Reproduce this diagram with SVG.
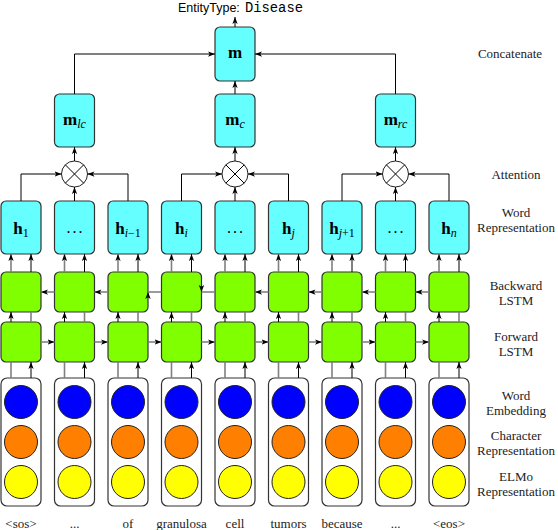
<svg xmlns="http://www.w3.org/2000/svg" width="558" height="530" viewBox="0 0 558 530">
<defs>
<marker id="a" viewBox="0 0 8 6" refX="8" refY="3" markerWidth="7" markerHeight="5.5" markerUnits="userSpaceOnUse" orient="auto">
<path d="M0,0 L8,3 L0,6 L2,3 z" fill="#000"/>
</marker>
<style>
.cy{fill:#66ffff;stroke:#333;stroke-width:1.2}
.gr{fill:#80ff00;stroke:#333;stroke-width:1.2}
.emb{fill:#fff;stroke:#333;stroke-width:1.2}
.b{fill:#0000ff;stroke:#222;stroke-width:1}
.o{fill:#ff8000;stroke:#222;stroke-width:1}
.y{fill:#ffff00;stroke:#222;stroke-width:1}
.att{fill:#fff;stroke:#222;stroke-width:1}
.k{stroke:#000;stroke-width:1;fill:none}
.ka{stroke:#000;stroke-width:1;fill:none;marker-end:url(#a)}
.g{stroke:#808080;stroke-width:1.6;fill:none}
.ga{stroke:#808080;stroke-width:1.6;fill:none;marker-end:url(#a)}
.lbl{font-family:"Liberation Serif",serif;font-size:13px;text-anchor:middle;fill:#222}
.sym{font-family:"Liberation Serif",serif;font-weight:bold;font-size:17px;text-anchor:middle;fill:#000}
.sub{font-weight:normal;font-style:italic;font-size:12px}
.subn{font-weight:normal;font-size:12px}
.dots{font-family:"Liberation Serif",serif;font-size:16px;text-anchor:middle;fill:#000;letter-spacing:2px}
</style>
</defs>
<rect width="558" height="530" fill="#fff"/>

<!-- embeddings -->
<g id="emb1"><rect class="emb" x="1" y="378" width="40" height="128" rx="6"/><circle class="b" cx="21" cy="402" r="16.5"/><circle class="o" cx="21" cy="442" r="16.5"/><circle class="y" cx="21" cy="482" r="16.5"/></g>
<g id="emb2"><rect class="emb" x="54.5" y="378" width="40" height="128" rx="6"/><circle class="b" cx="74.5" cy="402" r="16.5"/><circle class="o" cx="74.5" cy="442" r="16.5"/><circle class="y" cx="74.5" cy="482" r="16.5"/></g>
<g id="emb3"><rect class="emb" x="108" y="378" width="40" height="128" rx="6"/><circle class="b" cx="128" cy="402" r="16.5"/><circle class="o" cx="128" cy="442" r="16.5"/><circle class="y" cx="128" cy="482" r="16.5"/></g>
<g id="emb4"><rect class="emb" x="161.5" y="378" width="40" height="128" rx="6"/><circle class="b" cx="181.5" cy="402" r="16.5"/><circle class="o" cx="181.5" cy="442" r="16.5"/><circle class="y" cx="181.5" cy="482" r="16.5"/></g>
<g id="emb5"><rect class="emb" x="215" y="378" width="40" height="128" rx="6"/><circle class="b" cx="235" cy="402" r="16.5"/><circle class="o" cx="235" cy="442" r="16.5"/><circle class="y" cx="235" cy="482" r="16.5"/></g>
<g id="emb6"><rect class="emb" x="268.5" y="378" width="40" height="128" rx="6"/><circle class="b" cx="288.5" cy="402" r="16.5"/><circle class="o" cx="288.5" cy="442" r="16.5"/><circle class="y" cx="288.5" cy="482" r="16.5"/></g>
<g id="emb7"><rect class="emb" x="322" y="378" width="40" height="128" rx="6"/><circle class="b" cx="342" cy="402" r="16.5"/><circle class="o" cx="342" cy="442" r="16.5"/><circle class="y" cx="342" cy="482" r="16.5"/></g>
<g id="emb8"><rect class="emb" x="375.5" y="378" width="40" height="128" rx="6"/><circle class="b" cx="395.5" cy="402" r="16.5"/><circle class="o" cx="395.5" cy="442" r="16.5"/><circle class="y" cx="395.5" cy="482" r="16.5"/></g>
<g id="emb9"><rect class="emb" x="429" y="378" width="40" height="128" rx="6"/><circle class="b" cx="449" cy="402" r="16.5"/><circle class="o" cx="449" cy="442" r="16.5"/><circle class="y" cx="449" cy="482" r="16.5"/></g>

<!-- forward LSTM -->
<g id="fwd1"><rect class="gr" x="1" y="322" width="40" height="40" rx="5"/></g>
<g id="fwd2"><rect class="gr" x="54.5" y="322" width="40" height="40" rx="5"/></g>
<g id="fwd3"><rect class="gr" x="108" y="322" width="40" height="40" rx="5"/></g>
<g id="fwd4"><rect class="gr" x="161.5" y="322" width="40" height="40" rx="5"/></g>
<g id="fwd5"><rect class="gr" x="215" y="322" width="40" height="40" rx="5"/></g>
<g id="fwd6"><rect class="gr" x="268.5" y="322" width="40" height="40" rx="5"/></g>
<g id="fwd7"><rect class="gr" x="322" y="322" width="40" height="40" rx="5"/></g>
<g id="fwd8"><rect class="gr" x="375.5" y="322" width="40" height="40" rx="5"/></g>
<g id="fwd9"><rect class="gr" x="429" y="322" width="40" height="40" rx="5"/></g>

<!-- backward LSTM -->
<g id="bwd1"><rect class="gr" x="1" y="272" width="40" height="40" rx="5"/></g>
<g id="bwd2"><rect class="gr" x="54.5" y="272" width="40" height="40" rx="5"/></g>
<g id="bwd3"><rect class="gr" x="108" y="272" width="40" height="40" rx="5"/></g>
<g id="bwd4"><rect class="gr" x="161.5" y="272" width="40" height="40" rx="5"/></g>
<g id="bwd5"><rect class="gr" x="215" y="272" width="40" height="40" rx="5"/></g>
<g id="bwd6"><rect class="gr" x="268.5" y="272" width="40" height="40" rx="5"/></g>
<g id="bwd7"><rect class="gr" x="322" y="272" width="40" height="40" rx="5"/></g>
<g id="bwd8"><rect class="gr" x="375.5" y="272" width="40" height="40" rx="5"/></g>
<g id="bwd9"><rect class="gr" x="429" y="272" width="40" height="40" rx="5"/></g>

<!-- word representations -->
<g id="h1"><rect class="cy" x="1" y="201" width="40" height="53" rx="5"/><text class="sym" x="21" y="234">h<tspan class="subn" dy="2.5">1</tspan></text></g>
<g id="h2"><rect class="cy" x="54.5" y="201" width="40" height="53" rx="5"/><text class="dots" x="75.5" y="233">...</text></g>
<g id="h3"><rect class="cy" x="108" y="201" width="40" height="53" rx="5"/><text class="sym" x="128" y="234">h<tspan class="sub" dy="2.5">i</tspan><tspan class="subn">−1</tspan></text></g>
<g id="h4"><rect class="cy" x="161.5" y="201" width="40" height="53" rx="5"/><text class="sym" x="181.5" y="234">h<tspan class="sub" dy="2.5">i</tspan></text></g>
<g id="h5"><rect class="cy" x="215" y="201" width="40" height="53" rx="5"/><text class="dots" x="236" y="233">...</text></g>
<g id="h6"><rect class="cy" x="268.5" y="201" width="40" height="53" rx="5"/><text class="sym" x="288.5" y="234">h<tspan class="sub" dy="2.5">j</tspan></text></g>
<g id="h7"><rect class="cy" x="322" y="201" width="40" height="53" rx="5"/><text class="sym" x="342" y="234">h<tspan class="sub" dy="2.5">j</tspan><tspan class="subn">+1</tspan></text></g>
<g id="h8"><rect class="cy" x="375.5" y="201" width="40" height="53" rx="5"/><text class="dots" x="396.5" y="233">...</text></g>
<g id="h9"><rect class="cy" x="429" y="201" width="40" height="53" rx="5"/><text class="sym" x="449" y="234">h<tspan class="sub" dy="2.5">n</tspan></text></g>

<!-- attention -->
<g id="att1"><circle class="att" cx="74.5" cy="174" r="13"/><path class="k" d="M65.3,164.8L83.7,183.2M83.7,164.8L65.3,183.2"/></g>
<g id="att2"><circle class="att" cx="235" cy="174" r="13"/><path class="k" d="M225.8,164.8L244.2,183.2M244.2,164.8L225.8,183.2"/></g>
<g id="att3"><circle class="att" cx="395.5" cy="174" r="13"/><path class="k" d="M386.3,164.8L404.7,183.2M404.7,164.8L386.3,183.2"/></g>

<!-- m nodes -->
<g id="mlc"><rect class="cy" x="54.5" y="94" width="40" height="53" rx="5"/><text class="sym" x="74.5" y="125">m<tspan class="sub" dy="2.5">lc</tspan></text></g>
<g id="mc"><rect class="cy" x="215" y="94" width="40" height="53" rx="5"/><text class="sym" x="235" y="125">m<tspan class="sub" dy="2.5">c</tspan></text></g>
<g id="mrc"><rect class="cy" x="375.5" y="94" width="40" height="53" rx="5"/><text class="sym" x="395.5" y="125">m<tspan class="sub" dy="2.5">rc</tspan></text></g>
<g id="m"><rect class="cy" x="215" y="27" width="40" height="54" rx="5"/><text class="sym" x="235" y="58">m</text></g>

<g id="output"><text x="178" y="11.5" font-family="Liberation Sans, sans-serif" font-size="12.5" fill="#000">EntityType:</text><text x="245" y="11.5" font-family="Liberation Mono, monospace" font-size="13.8" fill="#000">Disease</text></g>

<!-- connectors -->
<g id="connectors">
<path class="g" d="M11,378V362"/><path class="ka" d="M11,322V312"/><path class="ga" d="M11,272V254"/><path class="ka" d="M31,378V362"/><path class="g" d="M31,322V312"/><path class="ka" d="M31,272V254"/>
<path class="g" d="M64.5,378V362"/><path class="ka" d="M64.5,322V312"/><path class="ga" d="M64.5,272V254"/><path class="ka" d="M84.5,378V362"/><path class="g" d="M84.5,322V312"/><path class="ka" d="M84.5,272V254"/>
<path class="g" d="M118,378V362"/><path class="ka" d="M118,322V312"/><path class="ga" d="M118,272V254"/><path class="ka" d="M138,378V362"/><path class="g" d="M138,322V312"/><path class="ka" d="M138,272V254"/>
<path class="g" d="M171.5,378V362"/><path class="ka" d="M171.5,322V312"/><path class="ga" d="M171.5,272V254"/><path class="ka" d="M191.5,378V362"/><path class="g" d="M191.5,322V312"/><path class="ka" d="M191.5,272V254"/>
<path class="g" d="M225,378V362"/><path class="ka" d="M225,322V312"/><path class="ga" d="M225,272V254"/><path class="ka" d="M245,378V362"/><path class="g" d="M245,322V312"/><path class="ka" d="M245,272V254"/>
<path class="g" d="M278.5,378V362"/><path class="ka" d="M278.5,322V312"/><path class="ga" d="M278.5,272V254"/><path class="ka" d="M298.5,378V362"/><path class="g" d="M298.5,322V312"/><path class="ka" d="M298.5,272V254"/>
<path class="g" d="M332,378V362"/><path class="ka" d="M332,322V312"/><path class="ga" d="M332,272V254"/><path class="ka" d="M352,378V362"/><path class="g" d="M352,322V312"/><path class="ka" d="M352,272V254"/>
<path class="g" d="M385.5,378V362"/><path class="ka" d="M385.5,322V312"/><path class="ga" d="M385.5,272V254"/><path class="ka" d="M405.5,378V362"/><path class="g" d="M405.5,322V312"/><path class="ka" d="M405.5,272V254"/>
<path class="g" d="M439,378V362"/><path class="ka" d="M439,322V312"/><path class="ga" d="M439,272V254"/><path class="ka" d="M459,378V362"/><path class="g" d="M459,322V312"/><path class="ka" d="M459,272V254"/>
<path class="ga" d="M41,342H54.5"/><path class="ga" d="M94.5,342H108"/><path class="ga" d="M148,342H161.5"/><path class="ga" d="M201.5,342H215"/><path class="ga" d="M255,342H268.5"/><path class="ga" d="M308.5,342H322"/><path class="ga" d="M362,342H375.5"/><path class="ga" d="M415.5,342H429"/>
<path class="ga" d="M54.5,292H41"/><path class="ga" d="M108,292H94.5"/><path class="g" d="M161.5,292H148"/><path class="g" d="M215,292H201.5"/><path class="ga" d="M268.5,292H255"/><path class="ga" d="M322,292H308.5"/><path class="ga" d="M375.5,292H362"/><path class="ga" d="M429,292H415.5"/>
<polygon points="148,292 150.7,299 148,297.3 145.3,299" fill="#000"/>
<polygon points="201.5,292 204.2,285 201.5,286.7 198.8,285" fill="#000"/>
<path class="ka" d="M21,201V174H61.5"/><path class="ka" d="M128,201V174H87.5"/><path class="ka" d="M74.5,201V187"/><path class="ka" d="M74.5,161V147"/>
<path class="ka" d="M181.5,201V174H222"/><path class="ka" d="M288.5,201V174H248"/><path class="ka" d="M235,201V187"/><path class="ka" d="M235,161V147"/>
<path class="ka" d="M342,201V174H382.5"/><path class="ka" d="M449,201V174H408.5"/><path class="ka" d="M395.5,201V187"/><path class="ka" d="M395.5,161V147"/>
<path class="ka" d="M74.5,94V54H215"/><path class="ka" d="M235,94V81"/><path class="ka" d="M395.5,94V54H255"/><path class="ka" d="M235,27V17"/>
</g>

<g id="labels">
<text class="lbl" x="510" y="58">Concatenate</text>
<text class="lbl" x="516" y="179">Attention</text>
<text class="lbl" x="516" y="216.5">Word</text>
<text class="lbl" x="516" y="231.5">Representation</text>
<text class="lbl" x="516" y="289.5">Backward</text>
<text class="lbl" x="516" y="304.5">LSTM</text>
<text class="lbl" x="516" y="340.5">Forward</text>
<text class="lbl" x="516" y="355.5">LSTM</text>
<text class="lbl" x="516" y="399.5">Word</text>
<text class="lbl" x="516" y="415">Embedding</text>
<text class="lbl" x="516" y="439.5">Character</text>
<text class="lbl" x="516" y="454.5">Representation</text>
<text class="lbl" x="516" y="480.5">ELMo</text>
<text class="lbl" x="516" y="495.5">Representation</text>
</g>

<g id="words">
<text class="lbl" x="21" y="528">&lt;sos&gt;</text>
<text class="lbl" x="74.5" y="528">...</text>
<text class="lbl" x="128" y="528">of</text>
<text class="lbl" x="181.5" y="528">granulosa</text>
<text class="lbl" x="235" y="528">cell</text>
<text class="lbl" x="288.5" y="528">tumors</text>
<text class="lbl" x="342" y="528">because</text>
<text class="lbl" x="395.5" y="528">...</text>
<text class="lbl" x="449" y="528">&lt;eos&gt;</text>
</g>
</svg>
